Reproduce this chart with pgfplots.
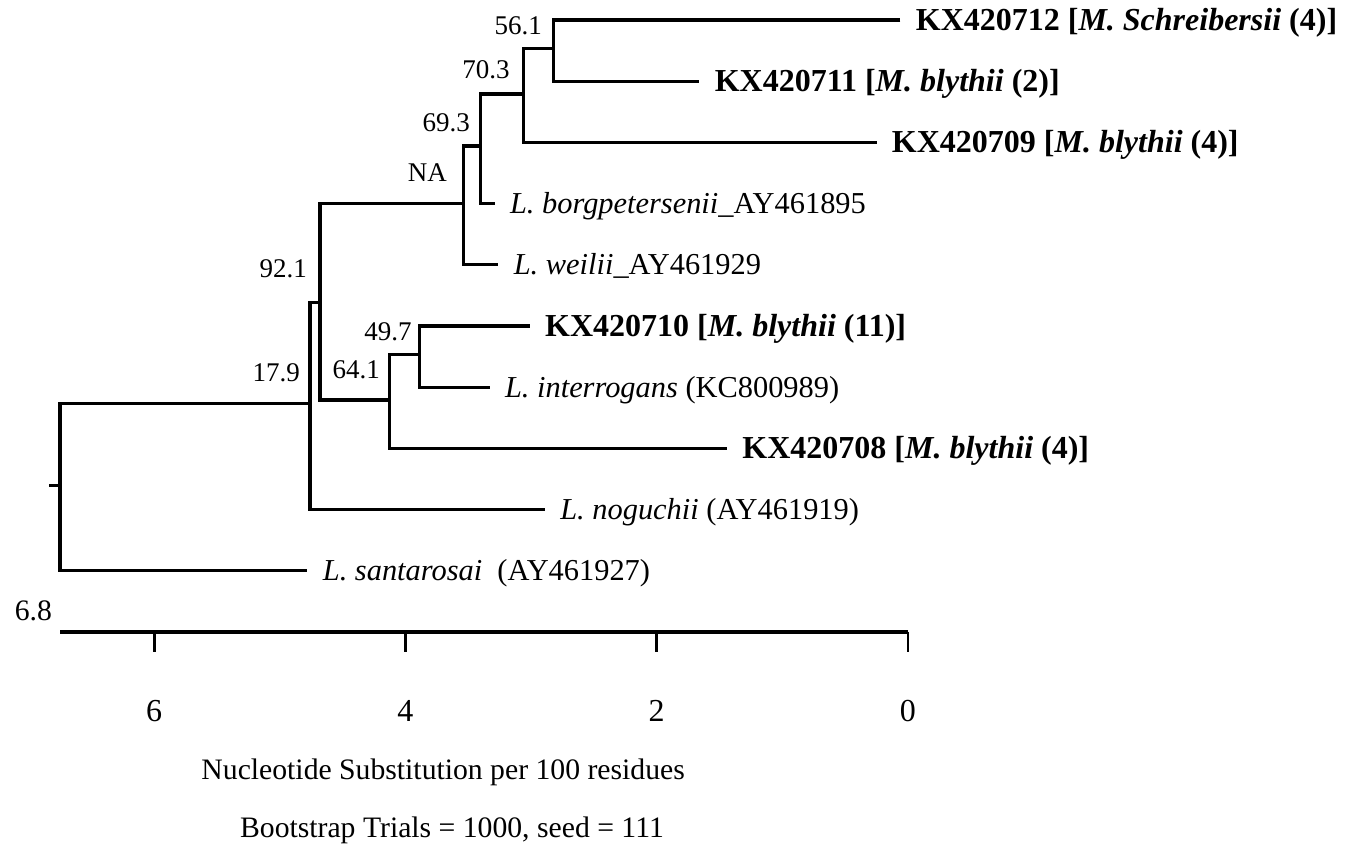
\documentclass[border=0pt]{standalone}
\usepackage{pgfplots}
\pgfplotsset{compat=1.18}
\usepackage{fontspec}
\setmainfont{Liberation Serif}
\newcommand\fs{\fontsize{14.85}{17}\selectfont}
\newcommand\fsb{\fontsize{16}{18}\selectfont}
\newcommand\fsl{\fontsize{15.2}{18}\selectfont}
\newcommand\fsn{\fontsize{13.5}{16}\selectfont}
\tikzset{
  leaf/.style={anchor=base west, inner sep=0pt, xshift=7.5pt, yshift=-5pt, font=\fsl},
  leafb/.style={anchor=base west, inner sep=0pt, xshift=7.5pt, yshift=-5.3pt, font=\fsb},
  boot/.style={anchor=east, inner sep=0pt, font=\fsn},
}
\pgfplotsset{tree/.style={black, line width=1.6pt, no markers, line join=miter}}
\begin{document}
\begin{tikzpicture}[font=\fs]
\begin{axis}[
  scale only axis, width=424pt, height=306pt,
  xmin=0, xmax=6.75, ymin=-10, ymax=0,
  x dir=reverse,
  axis x line=bottom, axis y line=none,
  x axis line style={-, line width=2pt},
  xtick={0,2,4,6}, tick align=outside, major tick length=10pt,
  tick style={line width=1.3pt, black},
  xticklabel style={font=\fontsize{16}{18}\selectfont, anchor=north, inner sep=0pt, yshift=-24pt},
  /pgf/number format/assume math mode=true,
  clip=false,
]
% internal nodes drawn as brackets
\addplot[tree] coordinates {(0.06,0) (2.82,0) (2.82,-1) (1.66,-1)};
\addplot[tree] coordinates {(2.82,-0.46) (3.06,-0.46) (3.06,-2) (0.25,-2)};
\addplot[tree] coordinates {(3.06,-1.21) (3.40,-1.21) (3.40,-3) (3.29,-3)};
\addplot[tree] coordinates {(3.40,-2.06) (3.54,-2.06) (3.54,-4) (3.26,-4)};
\addplot[tree] coordinates {(3.01,-5) (3.89,-5) (3.89,-6) (3.33,-6)};
\addplot[tree] coordinates {(3.89,-5.46) (4.13,-5.46) (4.13,-7) (1.44,-7)};
\addplot[tree] coordinates {(3.54,-3.0) (4.68,-3.0) (4.68,-6.21) (4.13,-6.21)};
\addplot[tree] coordinates {(4.68,-4.61) (4.76,-4.61) (4.76,-8) (2.89,-8)};
\addplot[tree] coordinates {(4.76,-6.27) (6.75,-6.27) (6.75,-9) (4.78,-9)};
\addplot[tree] coordinates {(6.75,-7.60) (6.84,-7.60)};
% leaf labels
\node[leafb] at (axis cs:0.06,0) {\textbf{KX420712 [\textit{M. Schreibersii} (4)]}};
\node[leafb] at (axis cs:1.66,-1) {\textbf{KX420711 [\textit{M. blythii} (2)]}};
\node[leafb] at (axis cs:0.25,-2) {\textbf{KX420709 [\textit{M. blythii} (4)]}};
\node[leaf] at (axis cs:3.29,-3) {\textit{L. borgpetersenii}\_AY461895};
\node[leaf] at (axis cs:3.26,-4) {\textit{L. weilii}\_AY461929};
\node[leafb] at (axis cs:3.01,-5) {\textbf{KX420710 [\textit{M. blythii} (11)]}};
\node[leaf] at (axis cs:3.33,-6) {\textit{L. interrogans} (KC800989)};
\node[leafb] at (axis cs:1.44,-7) {\textbf{KX420708 [\textit{M. blythii} (4)]}};
\node[leaf] at (axis cs:2.89,-8) {\textit{L. noguchii} (AY461919)};
\node[leaf] at (axis cs:4.78,-9) {\textit{L. santarosai}\ \ (AY461927)};
% bootstrap values
\node[boot] at (axis cs:2.912,-0.098) {56.1};
\node[boot] at (axis cs:3.167,-0.817) {70.3};
\node[boot] at (axis cs:3.485,-1.683) {69.3};
\node[boot] at (axis cs:3.668,-2.5) {NA};
\node[boot] at (axis cs:4.782,-4.069) {92.1};
\node[boot] at (axis cs:4.838,-5.768) {17.9};
\node[boot] at (axis cs:4.201,-5.719) {64.1};
\node[boot] at (axis cs:3.947,-5.098) {49.7};
\node[anchor=east, inner sep=0pt, font=\fs] at (axis cs:6.811,-9.657) {6.8};
% axis captions
\node[font=\fs, inner sep=0pt] at (axis cs:3.70,-12.29) {Nucleotide Substitution per 100 residues};
\node[font=\fs, inner sep=0pt] at (axis cs:3.63,-13.24) {Bootstrap Trials = 1000, seed = 111};
\end{axis}
\pgfresetboundingbox
\path ([shift={(-30pt,-108.5pt)}]current axis.south west) rectangle ([shift={(649pt,316pt)}]current axis.south west);
\end{tikzpicture}
\end{document}
